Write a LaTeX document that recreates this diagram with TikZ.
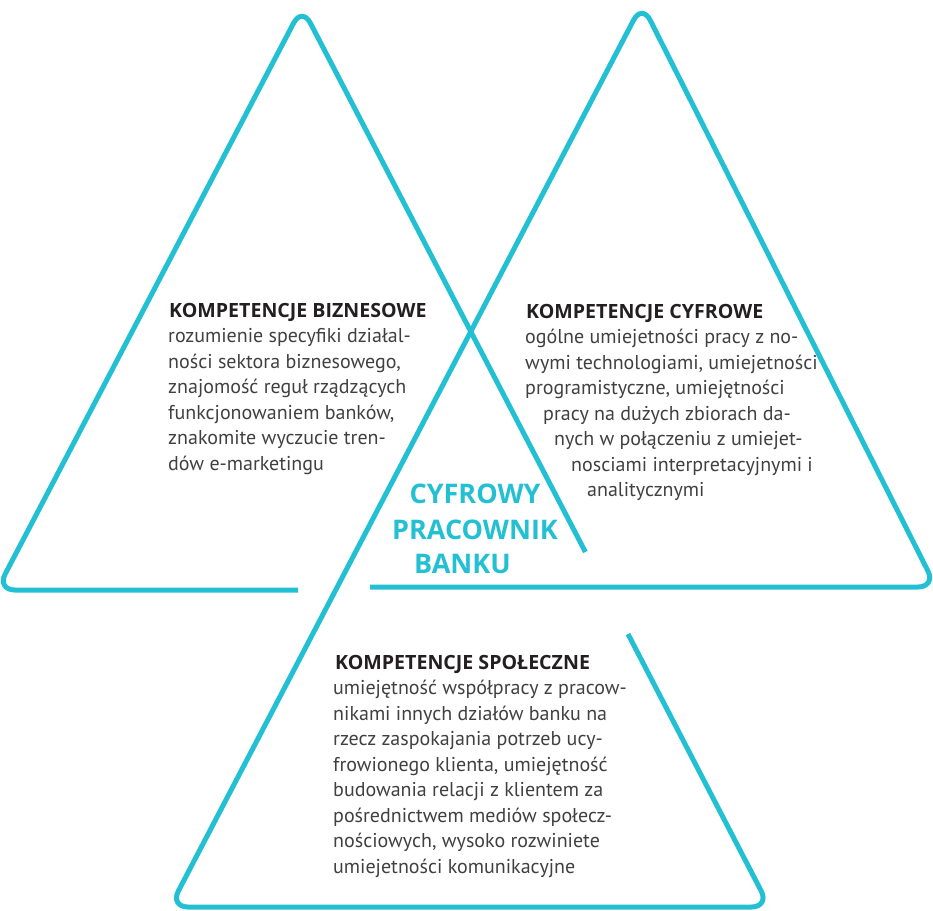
\documentclass[tikz,border=0pt]{standalone}
\usepackage{fontspec}
\setmainfont{PT Sans}
\newfontfamily\headfont{Open Sans}
\definecolor{cyanline}{RGB}{35,192,212}
\definecolor{titlecol}{RGB}{35,31,32}
\definecolor{bodycol}{RGB}{64,64,64}
\begin{document}
\begin{tikzpicture}[x=1pt,y=-1pt,
  tri/.style={draw=cyanline,line width=5pt,rounded corners=18pt},
  ttl/.style={anchor=base west,inner sep=0pt,text=titlecol,font=\headfont\fontsize{19.6}{25.5}\selectfont\bfseries},
  bod/.style={anchor=base west,inner sep=0pt,text=bodycol,font=\fontsize{20}{25.5}\selectfont},
  ctr/.style={anchor=base,inner sep=0pt,text=cyanline,font=\headfont\fontsize{27}{30}\selectfont\bfseries}]
\useasboundingbox (0,0) rectangle (933,910);
% corner coordinates
\coordinate (lgap) at (298,590);
\coordinate (L1) at (-3.2,590);
\coordinate (A1) at (302,7);
\coordinate (pend) at (585.4,552);
\coordinate (rgap) at (370,587);
\coordinate (R1) at (936,587);
\coordinate (A2) at (642,4);
\coordinate (B1) at (170,907);
\coordinate (B2) at (769.5,907);
\coordinate (pstart) at (628,634);
\draw[tri] (lgap) -- (L1) -- (A1) -- (pend);
\draw[tri] (rgap) -- (R1) -- (A2) -- (B1) -- (B2) -- (pstart);
% left block
\node[ttl] (biztitle) at (169,317) {KOMPETENCJE BIZNESOWE};
\foreach \t [count=\i] in {{rozumienie specyfiki działal-},{ności sektora biznesowego,},{znajomość reguł rządzących},{funkcjonowaniem banków,},{znakomite wyczucie tren-},{dów e-marketingu}}
  \node[bod] (biz-\i) at (168,317+25.5*\i) {\t};
% right block
\node[ttl] (cyftitle) at (526,318) {KOMPETENCJE CYFROWE};
\foreach \dx/\t [count=\i] in {525/{ogólne umiejetności pracy z no-},525/{wymi technologiami, umiejetności},525/{programistyczne, umiejętności},543/{pracy na dużych zbiorach da-},554/{nych w połączeniu z umiejet-},571/{nosciami interpretacyjnymi i},587/{analitycznymi}}
  \node[bod] (cyf-\i) at (\dx,318+25.5*\i) {\t};
% bottom block
\node[ttl] (spotitle) at (335,669) {KOMPETENCJE SPOŁECZNE};
\foreach \t [count=\i] in {{umiejętność współpracy z pracow-},{nikami innych działów banku na},{rzecz zaspokajania potrzeb ucy-},{frowionego klienta, umiejętność},{budowania relacji z klientem za},{pośrednictwem mediów społecz-},{nościowych, wysoko rozwiniete},{umiejetności komunikacyjne}}
  \node[bod] (spo-\i) at (333,669+25.5*\i) {\t};
% centre
\node[ctr] (c1) at (475,503) {CYFROWY};
\node[ctr] (c2) at (475,539) {PRACOWNIK};
\node[ctr] (c3) at (462.5,573) {BANKU};
\end{tikzpicture}
\end{document}
